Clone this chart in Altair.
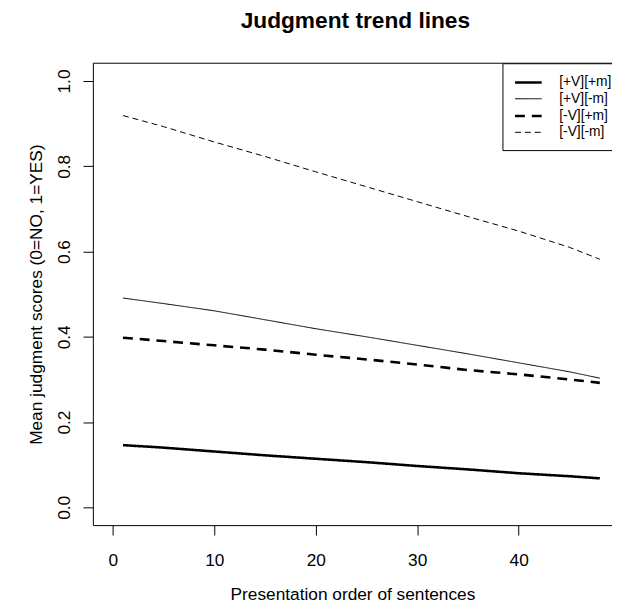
import altair as alt
import pandas as pd

# Presentation order positions at which values were read
order = [1, 5, 10, 15, 20, 25, 30, 35, 40, 45, 48]

conditions = ["[+V][+m]", "[+V][-m]", "[-V][+m]", "[-V][-m]"]

pv_pm = [0.146, 0.140, 0.131, 0.122, 0.114, 0.106, 0.097, 0.089, 0.080, 0.073, 0.068]
pv_mm = [0.491, 0.478, 0.461, 0.440, 0.419, 0.400, 0.380, 0.360, 0.339, 0.318, 0.303]
mv_pm = [0.398, 0.390, 0.380, 0.370, 0.358, 0.347, 0.335, 0.322, 0.312, 0.300, 0.292]
mv_mm = [0.919, 0.893, 0.857, 0.823, 0.787, 0.752, 0.717, 0.682, 0.648, 0.610, 0.582]

x_ticks = [0, 10, 20, 30, 40]
y_ticks = [0.0, 0.2, 0.4, 0.6, 0.8, 1.0]

series = dict(zip(conditions, [pv_pm, pv_mm, mv_pm, mv_mm]))
rows = []
for cond, vals in series.items():
    for o, v in zip(order, vals):
        rows.append({"order": o, "score": v, "cond": cond})
df = pd.DataFrame(rows)

W, H = 526, 468
FONT = "Liberation Sans"

legend = alt.Legend(
    title=None,
    orient="none",
    legendX=415,
    legendY=0,
    symbolType="M-1,0H3",
    symbolSize=182,
    symbolStrokeColor="black",
    labelFontSize=14,
    labelFont=FONT,
    labelColor="black",
    labelOffset=29.5,
    padding=11,
    rowPadding=1.5,
    strokeColor="black",
    fillColor="white",
    cornerRadius=0,
)

lines = alt.Chart(df).mark_line(color="black").encode(
    x=alt.X(
        "order:Q",
        scale=alt.Scale(domain=[-1.97, 49.2], nice=False, zero=False),
        axis=alt.Axis(
            values=x_ticks,
            title="Presentation order of sentences",
            tickSize=10,
            labelPadding=17,
            labelFontSize=17.5,
            titleFontSize=17.5,
            titleX=W / 2,
            titleY=75,
            titleBaseline="alphabetic",
            titleAlign="center",
        ),
    ),
    y=alt.Y(
        "score:Q",
        scale=alt.Scale(domain=[-0.0417, 1.0417], nice=False, zero=False),
        axis=alt.Axis(
            values=y_ticks,
            format=".1f",
            title="Mean judgment scores (0=NO, 1=YES)",
            tickSize=10,
            labelAngle=270,
            labelAlign="center",
            labelBaseline="alphabetic",
            labelPadding=14,
            labelFontSize=17.5,
            titleFontSize=17.5,
            titleAngle=270,
            titleX=-57,
            titleY=H / 2,
            titleAlign="center",
            titleBaseline="middle",
        ),
    ),
    strokeDash=alt.StrokeDash(
        "cond:N",
        scale=alt.Scale(type="ordinal", domain=conditions,
                        range=[[1, 0], [1, 0], [10, 7], [6, 4]]),
        legend=legend,
    ),
    strokeWidth=alt.StrokeWidth(
        "cond:N",
        scale=alt.Scale(type="ordinal", domain=conditions, range=[2.6, 1, 2.6, 1]),
        legend=legend,
    ),
)

top_border = alt.Chart(pd.DataFrame({"a": [0]})).mark_rule(
    color="black", strokeWidth=1
).encode(x=alt.value(0), x2=alt.value(W), y=alt.value(0))

chart = alt.layer(lines, top_border).properties(
    width=W,
    height=H,
    padding={"left": 86, "top": 52, "right": 0, "bottom": 80},
    autosize=alt.AutoSizeParams(type="none"),
    title=alt.TitleParams(
        "Judgment trend lines",
        fontSize=23,
        fontWeight="bold",
        font=FONT,
        color="black",
        anchor="middle",
        frame="group",
        baseline="alphabetic",
        offset=12,
        dx=3,
    ),
).configure_view(stroke=None).configure_axis(
    grid=False,
    domainColor="black",
    domainWidth=1,
    tickColor="black",
    tickWidth=1,
    labelColor="black",
    titleColor="black",
    labelFont=FONT,
    titleFont=FONT,
    titleFontWeight="normal",
)

chart.save("out.html", embed_options={"renderer": "svg", "actions": False})
